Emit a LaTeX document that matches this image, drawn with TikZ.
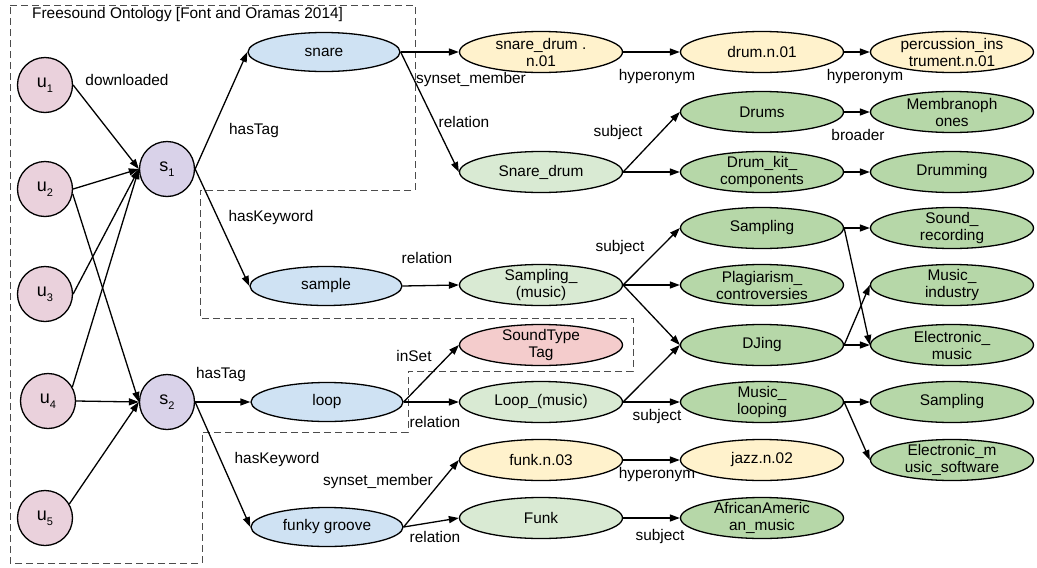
\documentclass[tikz,border=0pt]{standalone}
\usepackage{fontspec}
\setmainfont{Liberation Sans}
\usetikzlibrary{shapes.geometric,arrows.meta}

\definecolor{userpink}{HTML}{EAD1DC}
\definecolor{soundlilac}{HTML}{D9D2E9}
\definecolor{tagblue}{HTML}{CFE2F3}
\definecolor{synyellow}{HTML}{FFF2CC}
\definecolor{wikilight}{HTML}{D9EAD3}
\definecolor{catgreen}{HTML}{B6D7A8}
\definecolor{setpink}{HTML}{F4CCCC}

\newcommand{\nodeidx}[2]{#1\raisebox{-5pt}{\fontsize{11}{11}\selectfont #2}}

\begin{document}
\begin{tikzpicture}[x=1pt,y=-1pt,
  every node/.style={font=\fontsize{15.4}{17}\selectfont},
  person/.style={circle,draw,line width=1.3pt,fill=userpink,minimum size=55pt,inner sep=0pt,font=\fontsize{18}{18}\selectfont},
  sound/.style={person,fill=soundlilac},
  tagnode/.style={ellipse,draw,line width=1.3pt,fill=tagblue,minimum width=152pt,minimum height=39pt,inner sep=-4pt,align=center},
  concept/.style={ellipse,draw,line width=1.3pt,minimum width=163pt,minimum height=41pt,inner sep=-4pt,align=center},
  synset/.style={concept,fill=synyellow},
  wiki/.style={concept,fill=wikilight},
  catnode/.style={concept,fill=catgreen},
  settype/.style={concept,fill=setpink},
  lbl/.style={inner sep=0pt},
  link/.style={line width=1.3pt,-{Triangle[length=10pt,width=7pt]}},
  region/.style={draw=black!70,line width=1pt,dash pattern=on 7pt off 4pt}
]
\useasboundingbox (0,0) rectangle (1037,568);

% Ontology region
\draw[region] (10,5) -- (415,5) -- (415,190) -- (200,190) -- (200,318)
  -- (633,318) -- (633,371) -- (408,371) -- (408,432) -- (202,432)
  -- (202,563) -- (10,563) -- cycle;
\node[lbl,anchor=west] (title) at (32,15) {Freesound Ontology [Font and Oramas 2014]};

% Users
\node[person] (u1) at (45,85) {\nodeidx{u}{1}};
\node[person] (u2) at (45,189) {\nodeidx{u}{2}};
\node[person] (u3) at (45,294) {\nodeidx{u}{3}};
\node[person] (u4) at (48,401) {\nodeidx{u}{4}};
\node[person] (u5) at (45,518) {\nodeidx{u}{5}};

% Sounds
\node[sound] (s1) at (167,169) {\nodeidx{s}{1}};
\node[sound] (s2) at (167,402) {\nodeidx{s}{2}};

% Tags and keywords
\node[tagnode] (snare) at (324,52) {snare};
\node[tagnode] (sample) at (326,286) {sample};
\node[tagnode] (loop) at (327,402) {loop};
\node[tagnode] (funky) at (327,527) {funky groove};

% Second column
\node[synset] (snaresyn) at (541,52) {snare\_drum .\\n.01};
\node[wiki] (snaredrum) at (541,172) {Snare\_drum};
\node[wiki] (samplingmus) at (541,285) {Sampling\_\\(music)};
\node[settype] (soundtype) at (541,345) {SoundType\\Tag};
\node[wiki] (loopmus) at (541,402) {Loop\_(music)};
\node[synset] (funksyn) at (541,460) {funk.n.03};
\node[wiki] (funk) at (541,518) {Funk};

% Third column
\node[synset] (drumsyn) at (762,52) {drum.n.01};
\node[catnode] (drums) at (762,112) {Drums};
\node[catnode] (drumkit) at (762,172) {Drum\_kit\_\\components};
\node[catnode] (sampling) at (762,228) {Sampling};
\node[catnode] (plag) at (762,285) {Plagiarism\_\\controversies};
\node[catnode] (djing) at (762,345) {DJing};
\node[catnode] (looping) at (762,402) {Music\_\\looping};
\node[synset] (jazzsyn) at (762,460) {jazz.n.02};
\node[catnode] (afram) at (762,518) {AfricanAmeric\\an\_music};

% Fourth column
\node[synset] (percsyn) at (952,52) {percussion\_ins\\trument.n.01};
\node[catnode] (membr) at (952,112) {Membranoph\\ones};
\node[catnode] (drumming) at (952,172) {Drumming};
\node[catnode] (soundrec) at (952,228) {Sound\_\\recording};
\node[catnode] (musicind) at (952,285) {Music\_\\industry};
\node[catnode] (elecmus) at (952,345) {Electronic\_\\music};
\node[catnode] (sampling2) at (952,402) {Sampling};
\node[catnode] (elecsoft) at (952,460) {Electronic\_m\\usic\_software};

% Downloads
\draw[link] (u1.east) -- (s1.west);
\draw[link] (u2.east) -- (s1.west);
\draw[link] (u3.east) -- (s1.west);
\draw[link] (u4.30) -- (s1.west);
\draw[link] (u2.-10) -- (s2.west);
\draw[link] (u4.east) -- (s2.west);
\draw[link] (u5.30) -- (s2.west);

% Tags and keywords
\draw[link] (s1.east) -- (snare.west);
\draw[link] (s1.east) -- (sample.west);
\draw[link] (s2.east) -- (loop.west);
\draw[link] (s2.east) -- (funky.west);

% snare
\draw[link] (snare.east) -- (snaresyn.west);
\draw[link] (snare.east) -- (snaredrum.west);
\draw[link] (snaresyn.east) -- (drumsyn.west);
\draw[link] (drumsyn.east) -- (percsyn.west);
\draw[link] (snaredrum.east) -- (drums.west);
\draw[link] (snaredrum.east) -- (drumkit.west);
\draw[link] (drums.east) -- (membr.west);
\draw[link] (drumkit.east) -- (drumming.west);

% sample
\draw[link] (sample.east) -- (samplingmus.west);
\draw[link] (samplingmus.east) -- (sampling.west);
\draw[link] (samplingmus.east) -- (plag.west);
\draw[link] (samplingmus.east) -- (djing.west);
\draw[link] (sampling.east) -- (soundrec.west);
\draw[link] (sampling.east) -- (elecmus.west);
\draw[link] (djing.east) -- (musicind.west);
\draw[link] (djing.east) -- (elecmus.west);

% loop
\draw[link] (loop.east) -- (soundtype.west);
\draw[link] (loop.east) -- (loopmus.west);
\draw[link] (loopmus.east) -- (djing.west);
\draw[link] (loopmus.east) -- (looping.west);
\draw[link] (looping.east) -- (sampling2.west);
\draw[link] (looping.east) -- (elecsoft.west);

% funky groove
\draw[link] (funky.east) -- (funksyn.west);
\draw[link] (funky.east) -- (funk.west);
\draw[link] (funksyn.east) -- (jazzsyn.west);
\draw[link] (funk.east) -- (afram.west);

% Edge labels
\node[lbl] (lbldown) at (127,80) {downloaded};
\node[lbl] (lbltag1) at (254,131) {hasTag};
\node[lbl] (lblkey1) at (271,218) {hasKeyword};
\node[lbl] (lbltag2) at (221,375) {hasTag};
\node[lbl] (lblkey2) at (277,460) {hasKeyword};
\node[lbl] (lblsyn1) at (471,80) {synset\_member};
\node[lbl] (lblrel1) at (464,122) {relation};
\node[lbl] (lblhyp1) at (657,77) {hyperonym};
\node[lbl] (lblhyp2) at (865,77) {hyperonym};
\node[lbl] (lblsub1) at (618,133) {subject};
\node[lbl] (lblbroad) at (858,135) {broader};
\node[lbl] (lblrel2) at (427,258) {relation};
\node[lbl] (lblsub2) at (620,248) {subject};
\node[lbl] (lblinset) at (414,356) {inSet};
\node[lbl] (lblrel3) at (435,422) {relation};
\node[lbl] (lblsub3) at (657,417) {subject};
\node[lbl] (lblsyn2) at (378,482) {synset\_member};
\node[lbl] (lblhyp3) at (657,475) {hyperonym};
\node[lbl] (lblrel4) at (435,537) {relation};
\node[lbl] (lblsub4) at (660,537) {subject};

\end{tikzpicture}
\end{document}
